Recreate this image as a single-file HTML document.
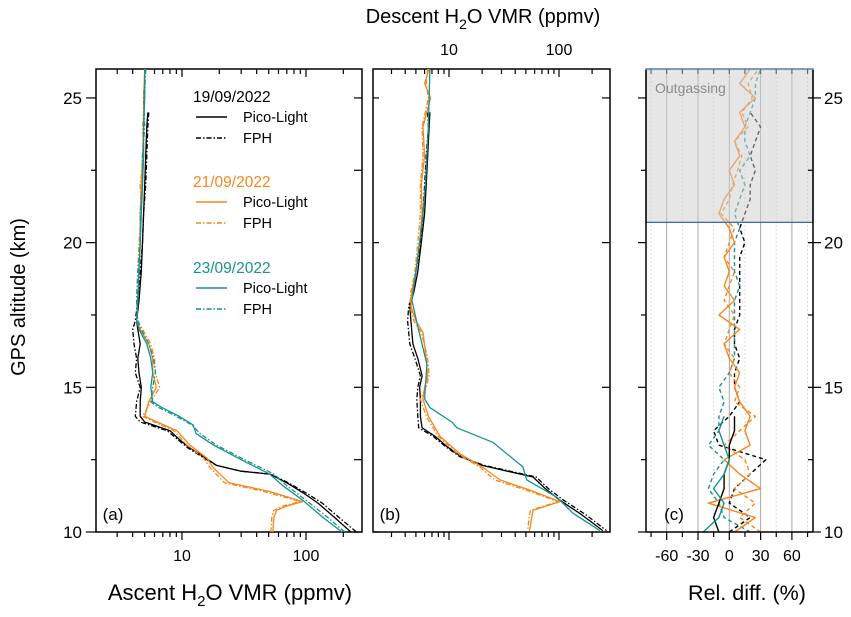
<!DOCTYPE html>
<html><head><meta charset="utf-8">
<style>
html,body{margin:0;padding:0;background:#fff;}
svg{display:block;font-family:"Liberation Sans",Arial,sans-serif;}
</style></head>
<body>
<svg id="fig" width="851" height="617" viewBox="0 0 851 617" xmlns="http://www.w3.org/2000/svg"></svg>
<script>
// ---------- DATA ----------
// Panel (a) ascent
const ascBlackAlt = [24.5,24,23,22,21,20,19,18,17.3,17,16.5,16,15.5,15,14.5,14,13.8,13.5,13.2,12.9,12.6,12.3,12.1,12.0,11.7,11.35,11,10.5,10];
const ascBlackPL  = [5.3,5.2,5.1,5.0,4.9,4.8,4.7,4.5,4.3,4.4,4.6,4.4,4.5,4.7,4.6,4.6,5.0,8.0,9.5,11.6,15,19,30,51,70,95,125,170,230];
const ascBlackFPH = [5.4,5.3,5.2,5.1,4.9,4.8,4.6,4.4,4.2,4.0,4.1,4.3,4.2,4.6,4.3,4.2,4.6,7.6,9.2,11.2,14.5,19,30,52,72,100,135,185,255];
const ascOrangeAlt = [26,25,24,23,22,21,20,19,18,17.3,17,16.5,16,15.5,15,14.5,14,13.8,13.5,13,12.55,12.2,11.7,11.4,11.05,10.9,10.75,10.5,10];
const ascOrangePL  = [5.0,4.9,4.9,4.8,4.7,4.6,4.6,4.5,4.4,4.3,4.6,5.4,5.8,5.8,6.2,5.4,5.0,6.3,9.1,11.6,15.9,18,24,51,94,70,58,55,54];
const ascOrangeFPH = [5.1,5.0,4.8,4.9,4.6,4.7,4.5,4.4,4.3,4.4,4.8,5.6,6.0,6.1,6.6,5.6,4.8,6.0,8.6,11.0,15,17,22,46,90,65,55,53,52];
const ascTealAlt = [26,25,24,23,22,21,20,19,18,17.3,17,16.5,16,15.5,15,14.5,14.3,14.0,13.7,13.4,13,12.5,12,11.6,11.1,10.5,10];
const ascTealPL  = [5.0,5.0,4.9,4.9,4.8,4.7,4.6,4.5,4.4,4.3,4.5,5.2,5.6,5.8,5.6,5.8,6.9,9.5,12.3,13,18,30,51,65,94,137,195];
const ascTealFPH = [5.1,4.9,5.0,4.8,4.8,4.6,4.6,4.4,4.3,4.4,4.7,5.4,5.9,6.1,5.8,5.6,6.5,9.0,12.0,14,19,32,55,70,100,150,205];
// Panel (b) descent
const desBlackAlt = [24.5,24,23,22,21,20,19,18.3,17.8,17.3,16.5,16,15.4,15,14.6,14,13.6,13.3,12.95,12.6,12.3,11.9,11.5,11.1,10.6,10.05];
const desBlackPL  = [6.7,6.6,6.4,6.2,6.0,5.6,5.2,4.8,4.4,4.5,4.7,5.2,5.7,5.4,5.5,5.5,5.7,7.5,9.6,13,20,58,75,102,160,250];
const desBlackFPH = [6.4,6.5,6.2,6.0,5.8,5.5,5.0,4.7,4.3,4.2,4.4,4.9,5.5,5.2,5.1,5.2,5.3,7.2,9.3,12.6,21,62,80,110,175,270];
const desOrangeAlt = [26,25.5,25,24,23,22,21,20,19,18.3,17.8,17.3,16.9,16,15.4,15,14.6,14,13.3,12.7,12.25,11.8,11.45,11.05,10.75,10.4,10.05];
const desOrangePL  = [6.6,6.0,6.8,5.8,6.0,5.6,5.7,5.4,5.0,4.6,4.5,5.0,5.8,6.2,6.4,6.0,5.8,6.5,8.3,12.6,20,29,54,102,58,56,54];
const desOrangeFPH = [6.4,6.2,6.5,5.7,5.8,5.5,5.5,5.2,4.9,4.5,4.4,4.8,5.6,6.4,6.6,6.2,5.5,6.2,8.0,12.0,19,26,50,98,55,53,52];
const desTealAlt = [26,25,24,23,22,21,20,19,18,17.1,15.8,14.6,14.3,13.8,13.6,13.1,12.25,11.8,11.2,10.65,10.05];
const desTealPL  = [6.7,6.6,6.5,6.3,6.1,5.8,5.4,5.0,4.6,5.2,6.3,6.0,6.7,10.6,11.8,25,47,51,96,134,235];
// Panel (c) relative difference (%)
const relAlt = [10,10.5,11,11.5,12,12.5,13,13.5,14,14.5,15,15.5,16,16.5,17,17.5,18,18.5,19,19.5,20,20.5,21,21.5,22,22.5,23,23.5,24,24.5,25,25.5,26];
const relOrangeSolid = [5,25,-20,30,10,-5,20,15,20,10,5,10,0,-5,10,-10,5,-5,0,-5,5,0,-10,-5,5,0,10,5,15,10,25,10,20];
const relOrangeDash  = [30,10,25,5,20,15,-5,10,25,5,10,0,5,-5,0,5,-5,0,5,-5,0,5,-8,0,3,8,12,5,18,12,22,18,28];
const relTealDash    = [20,-5,-10,-20,-15,-5,-20,-10,-10,-5,-10,0,5,5,5,5,5,10,5,5,5,10,5,10,15,10,20,15,15,20,25,25,30];
const relBlackDashAlt = [10,10.5,11,11.5,12,12.5,13,13.5,14,14.5,15,15.5,16,16.5,17,17.5,18,18.5,19,19.5,20,20.5,21,21.5,22,22.5,23,23.5,24,24.5];
const relBlackDash    = [0,20,0,5,20,35,-10,-15,0,10,5,5,10,5,5,10,10,10,10,10,15,10,15,20,20,25,20,25,30,20];
const relShortAlt = [10,10.5,11,11.5,12,12.5,13,13.5,14];
const relBlackSolid = [-10,-15,-10,-5,-5,0,0,5,5];
const relTealSolid  = [-25,-10,-5,-15,-5,0,-5,-10,-5];
const altTicks = [10,15,20,25];
const logTickLabels = [10,100];
const relTickLabels = [-60,-30,0,30,60];

// ---------- AXES ----------
const NS='http://www.w3.org/2000/svg';
const svg=document.getElementById('fig');
const Y0=532, YT=69, ALT0=10, ALT1=26.0;
function yAlt(a){return Y0-(a-ALT0)*(Y0-YT)/(ALT1-ALT0);}
const PA={l:96,r:362,x10:182,dec:124};
const PB={l:373,r:610,x10:449,dec:110};
function xLog(p,v){return p.x10+(Math.log10(v)-1)*p.dec;}
const PC={l:646,r:813};
function xRel(v){return 729.3+v*31.3/30;}
function el(tag,attrs,parent){const e=document.createElementNS(NS,tag);for(const k in attrs)e.setAttribute(k,attrs[k]);(parent||svg).appendChild(e);return e;}
function txt(s,x,y,size,anchor,parent){const t=el('text',{x:x,y:y,'font-size':size,'text-anchor':anchor||'middle',fill:'#000'},parent);t.textContent=s;return t;}
function line(x1,y1,x2,y2,stroke,w,parent){return el('line',{x1:x1,y1:y1,x2:x2,y2:y2,stroke:stroke,'stroke-width':w||1},parent);}
function path(xs,alts,fx,color,dash,w,name,parent){
  let d='';for(let i=0;i<xs.length;i++){d+=(i?'L':'M')+fx(xs[i]).toFixed(1)+','+yAlt(alts[i]).toFixed(1);}
  const p=el('path',{d:d,fill:'none',stroke:color,'stroke-width':w||1.4,'stroke-linejoin':'round'},parent);
  if(dash)p.setAttribute('stroke-dasharray',dash);
  
  
  return p;
}
const BLK='#000', ORG='#f7861c', TEAL='#16928f';
const DASHDOT='5,2,1.5,2';

// ---- panel a ----
const ga=el('g',{});


el('rect',{x:PA.l,y:YT,width:PA.r-PA.l,height:Y0-YT,fill:'none',stroke:'#000','stroke-width':1.5},ga);
function logTicks(p,g,top,bottomOut){
  for(let dec=1;dec<=1000;dec*=10){for(let m=1;m<10;m++){const v=dec*m;const x=xLog(p,v);if(x<p.l+1||x>p.r-1)continue;
    const len=m===1?8:5;
    if(bottomOut) line(x,Y0,x,Y0+len,'#000',1.2,g); else line(x,Y0,x,Y0-len,'#000',1.2,g);
    line(x,YT,x,YT+len,'#000',1.2,g);
  }}
}
logTicks(PA,ga,true,true);
for(let a=10;a<=25;a+=2.5){const y=yAlt(a);const maj=a%5===0;
  line(PA.l-(maj?10:5),y,PA.l,y,'#000',1.2,ga);
  line(PA.r,y,PA.r-8,y,'#000',1.2,ga);
}
altTicks.forEach(a=>{const t=txt(String(a),82,yAlt(a)+6,17,'end',ga);
  
  });
logTickLabels.forEach(v=>{const t=txt(String(v),xLog(PA,v),561,16,'middle',ga);
  
  });
path(ascBlackPL,ascBlackAlt,v=>xLog(PA,v),BLK,null,1.3,'ascent-19sep-pico-light',ga);
path(ascBlackFPH,ascBlackAlt,v=>xLog(PA,v),BLK,DASHDOT,1.3,'ascent-19sep-fph',ga);
path(ascOrangePL,ascOrangeAlt,v=>xLog(PA,v),ORG,null,1.3,'ascent-21sep-pico-light',ga);
path(ascOrangeFPH,ascOrangeAlt,v=>xLog(PA,v),ORG,DASHDOT,1.3,'ascent-21sep-fph',ga);
path(ascTealPL,ascTealAlt,v=>xLog(PA,v),TEAL,null,1.3,'ascent-23sep-pico-light',ga);
path(ascTealFPH,ascTealAlt,v=>xLog(PA,v),TEAL,DASHDOT,1.3,'ascent-23sep-fph',ga);
txt('(a)',113,520,17,'middle',ga);
// legend
const lg=el('g',{},ga);


const legendGroups=[['19/09/2022',BLK,97],['21/09/2022',ORG,182],['23/09/2022',TEAL,268]];
legendGroups.forEach(([d,c,y])=>{
  const t=txt(d,193,y+5,15.5,'start',lg);t.setAttribute('fill',c);
  line(196,y+20,227,y+20,c,1.4,lg);txt('Pico-Light',243,y+25,14.5,'start',lg);
  const l2=line(196,y+41,227,y+41,c,1.4,lg);l2.setAttribute('stroke-dasharray',DASHDOT);
  txt('FPH',243,y+46,14.5,'start',lg);
});

// ---- panel b ----
const gb=el('g',{});


el('rect',{x:PB.l,y:YT,width:PB.r-PB.l,height:Y0-YT,fill:'none',stroke:'#000','stroke-width':1.5},gb);
logTicks(PB,gb,true,true);
for(let a=10;a<=25;a+=5){const y=yAlt(a);line(PB.r,y,PB.r-8,y,'#000',1.2,gb);line(PB.l,y,PB.l+6,y,'#000',1.2,gb);}
logTickLabels.forEach(v=>{const t=txt(String(v),xLog(PB,v),55,16,'middle',gb);
  
  });
path(desBlackPL,desBlackAlt,v=>xLog(PB,v),BLK,null,1.3,'descent-19sep-pico-light',gb);
path(desBlackFPH,desBlackAlt,v=>xLog(PB,v),BLK,DASHDOT,1.3,'descent-19sep-fph',gb);
path(desOrangePL,desOrangeAlt,v=>xLog(PB,v),ORG,null,1.3,'descent-21sep-pico-light',gb);
path(desOrangeFPH,desOrangeAlt,v=>xLog(PB,v),ORG,DASHDOT,1.3,'descent-21sep-fph',gb);
path(desTealPL,desTealAlt,v=>xLog(PB,v),TEAL,null,1.3,'descent-23sep-pico-light',gb);
txt('(b)',390,520,17,'middle',gb);

// ---- panel c ----
const gc=el('g',{});


for(let v=-75;v<=75;v+=15){const x=xRel(v);const maj=v%30===0;
  const g=line(x,YT,x,Y0,maj?'#a8a8a8':'#dcdcdc',1,gc);if(!maj)g.setAttribute('stroke-dasharray','2,2');
  line(x,Y0,x,Y0+(maj?8:5),'#000',1.2,gc);line(x,YT,x,YT+5,'#000',1.2,gc);}
path(relBlackDash,relBlackDashAlt,xRel,BLK,'4,3',1.4,'rel-diff-19sep-fph',gc);
path(relTealDash,relAlt,xRel,TEAL,'4,3',1.4,'rel-diff-23sep-fph',gc);
path(relOrangeDash,relAlt,xRel,ORG,'4,3',1.4,'rel-diff-21sep-fph',gc);
path(relOrangeSolid,relAlt,xRel,ORG,null,1.4,'rel-diff-21sep-pico-light',gc);
path(relBlackSolid,relShortAlt,xRel,BLK,null,1.4,'rel-diff-19sep-pico-light',gc);
path(relTealSolid,relShortAlt,xRel,TEAL,null,1.4,'rel-diff-23sep-pico-light',gc);
const og=el('rect',{x:PC.l,y:YT,width:PC.r-PC.l,height:yAlt(20.7)-YT,fill:'rgba(205,205,205,0.5)',stroke:'#3c6fa0','stroke-width':1.3},gc);


const ot=txt('Outgassing',655,93,14,'start',gc);ot.setAttribute('fill','#8c8c8c');
line(PC.l,YT+1,PC.l,Y0,'#000',1.5,gc);line(PC.r,YT+1,PC.r,Y0,'#000',1.5,gc);line(PC.l,Y0,PC.r,Y0,'#000',1.5,gc);
for(let a=10;a<=25;a+=2.5){const y=yAlt(a);const maj=a%5===0;line(PC.r,y,PC.r+(maj?8:0),y,'#000',1.2,gc);line(PC.r,y,PC.r-5,y,'#000',1.2,gc);line(PC.l,y,PC.l-(maj?8:5),y,'#000',1.2,gc);}
altTicks.forEach(a=>{const t=txt(String(a),824,yAlt(a)+6,17,'start',gc);
  
  });
relTickLabels.forEach(v=>{const t=txt(String(v),xRel(v),561,16,'middle',gc);
  
  });
txt('(c)',674,520,17,'middle',gc);

// ---- titles ----
const yt=el('text',{x:0,y:0,'font-size':20,'text-anchor':'middle',transform:'translate(25,297) rotate(-90)'});
yt.textContent='GPS altitude (km)';


const xa=el('text',{x:230,y:600,'font-size':22,'text-anchor':'middle'});
xa.innerHTML='Ascent H<tspan font-size="15" dy="6">2</tspan><tspan dy="-6">O VMR (ppmv)</tspan>';


const xd=el('text',{x:483,y:23,'font-size':20,'text-anchor':'middle'});
xd.innerHTML='Descent H<tspan font-size="14" dy="6">2</tspan><tspan dy="-6">O VMR (ppmv)</tspan>';


const xr=el('text',{x:747,y:600,'font-size':21.5,'text-anchor':'middle'});
xr.textContent='Rel. diff. (%)';


</script>
</body></html>
